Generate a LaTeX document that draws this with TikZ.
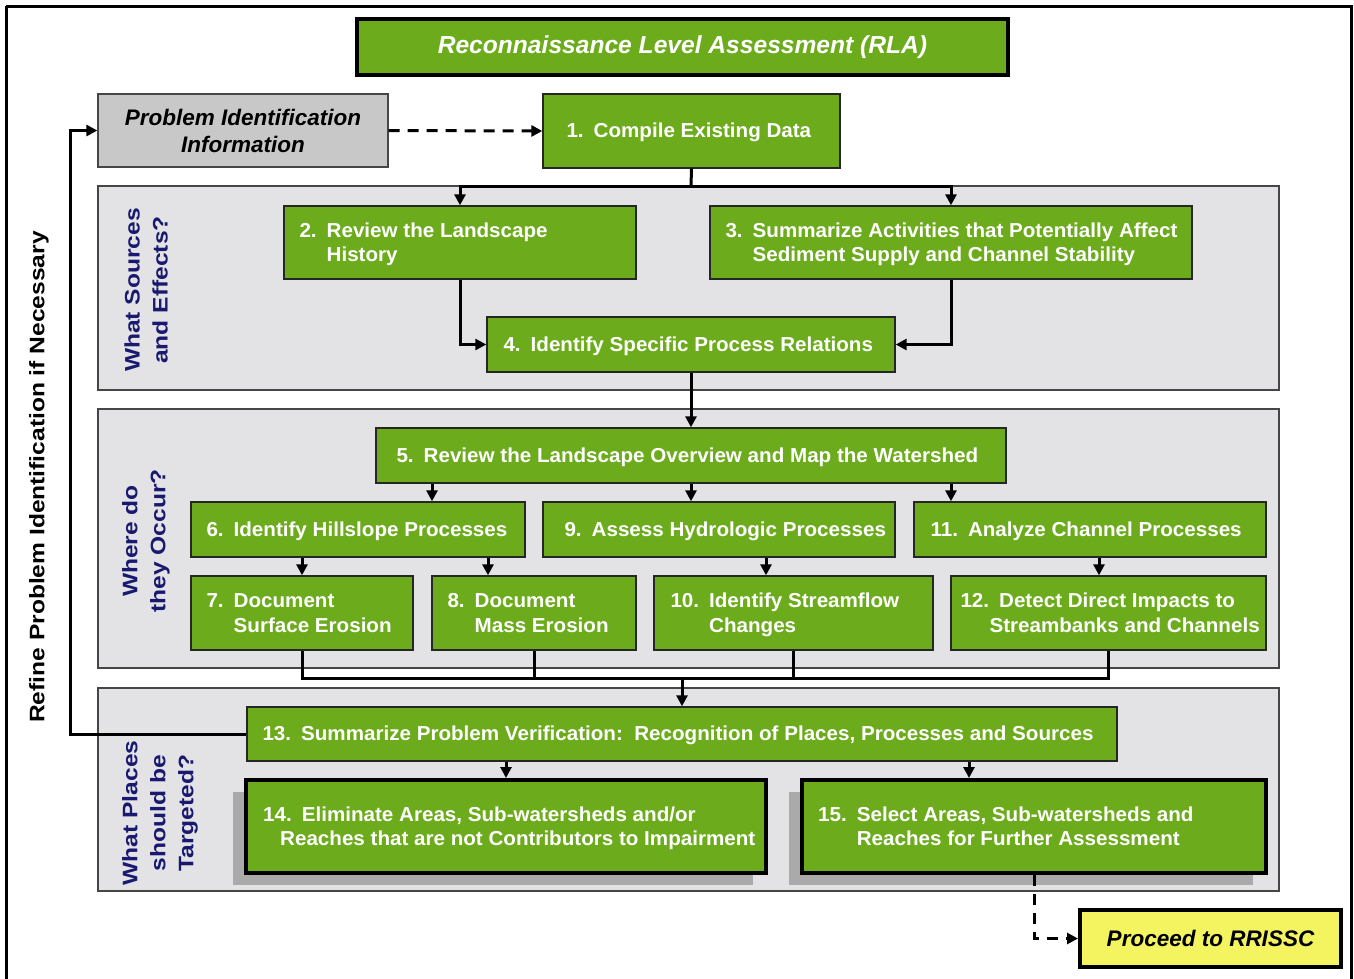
\documentclass[tikz,border=0pt]{standalone}
\usepackage{fontspec}
\setmainfont{Liberation Sans}
\newfontfamily\boxfnt[FakeStretch=1.02]{Liberation Sans}
\newfontfamily\widefnt[FakeStretch=1.17]{Liberation Sans}
\usetikzlibrary{arrows.meta,shadows}
\definecolor{grn}{RGB}{108,172,28}
\definecolor{panelgray}{RGB}{227,226,228}
\definecolor{pigray}{RGB}{200,200,200}
\definecolor{shadowgray}{RGB}{170,170,170}
\definecolor{yel}{RGB}{244,244,96}
\definecolor{navy}{RGB}{25,25,112}
\definecolor{bordergray}{RGB}{70,70,70}
\newcommand\nm[2]{\begin{tabular}{@{}l@{\hspace{10pt}}l@{}}#1&#2\end{tabular}}
% generic box: [style]{name}{x1}{y1}{x2}{y2}{text}
\newcommand\bx[7][]{%
  \pgfmathsetmacro\bxw{#5-#3}\pgfmathsetmacro\bxh{#6-#4}%
  \pgfmathsetmacro\bxcx{(#3+#5)/2}\pgfmathsetmacro\bxcy{(#4+#6)/2}%
  \node[#1,minimum width=\bxw pt,minimum height=\bxh pt] (#2) at (\bxcx,\bxcy) {#7};}
% green step box: [style]{name}{x1}{y1}{x2}{y2}{pad}{text}
\newcommand\gb[8][]{%
  \bx[gbox,#1]{#2}{#3}{#4}{#5}{#6}{}%
  \node[btext] (#2t) at ([xshift=#7pt,yshift=-2pt]#2.west) {#8};}
\begin{document}
\begin{tikzpicture}[x=1pt,y=-1pt,
  panel/.style={draw=bordergray,fill=panelgray,line width=1.3pt,inner sep=0},
  gbox/.style={draw=black!85,fill=grn,line width=1.4pt,inner sep=0},
  thick box/.style={line width=4pt,draw=black},
  btext/.style={anchor=west,inner sep=0,text=white,font=\boxfnt\bfseries\fontsize{20.2}{24.5}\selectfont},
  seclab/.style={rotate=90,align=center,inner sep=0,text=navy,font=\widefnt\bfseries\fontsize{21}{28}\selectfont},
  line/.style={line width=3pt,draw=black},
  arr/.style={line width=3pt,-{Triangle[length=11pt,width=11pt]}},
  dasharr/.style={line width=3pt,dash pattern=on 11pt off 8pt,-{Triangle[length=11pt,width=11pt]}},
  shad/.style={general shadow={fill=shadowgray,shadow xshift=-13pt,shadow yshift=-12pt}}]
\useasboundingbox (0,0) rectangle (1354,978);
\draw[line width=3pt] (6,6) -- (1351,6) -- (1351,995) (6,6) -- (6,995);

% title
\bx[fill=grn,thick box,text=white,font=\bfseries\itshape\fontsize{24.6}{28}\selectfont]{title}{357}{19}{1008}{75}{\raisebox{-2pt}{Reconnaissance Level Assessment (RLA)}}

% panels
\bx[panel]{p1}{98}{186}{1279}{390}{}
\bx[panel]{p2}{98}{409}{1279}{668}{}
\bx[panel]{p3}{98}{688}{1279}{891}{}

% section labels
\node[seclab] (l1) at (146,290) {What Sources\\and Effects?};
\node[seclab] (l2) at (146,541) {Where do\\they Occur?};
\node[seclab] (l3) at (160,813) {What Places\\should be\\Targeted?};
\node[rotate=90,inner sep=0,font=\widefnt\bfseries\fontsize{21}{26}\selectfont] (refine) at (39,477) {Refine Problem Identification if Necessary};

% problem identification
\bx[draw=bordergray,fill=pigray,line width=1.3pt,align=center,font=\bfseries\itshape\fontsize{22.5}{27}\selectfont]{pi}{98}{94}{388}{167}{Problem Identification\\Information}

% green boxes
\gb{b1}{543}{94}{840}{168}{24}{\nm{1.}{Compile Existing Data}}
\gb{b2}{284}{206}{636}{279}{16}{\nm{2.}{Review the Landscape\\&History}}
\gb{b3}{710}{206}{1192}{279}{16}{\nm{3.}{Summarize Activities that Potentially Affect\\&Sediment Supply and Channel Stability}}
\gb{b4}{487}{317}{895}{372}{17}{\nm{4.}{Identify Specific Process Relations}}
\gb{b5}{376}{428}{1006}{483}{21}{\nm{5.}{Review the Landscape Overview and Map the Watershed}}
\gb{b6}{191}{502}{525}{557}{16}{\nm{6.}{Identify Hillslope Processes}}
\gb{b9}{543}{502}{895}{557}{22}{\nm{9.}{Assess Hydrologic Processes}}
\gb{b11}{914}{502}{1266}{557}{17}{\nm{11.}{Analyze Channel Processes}}
\gb{b7}{191}{576}{413}{650}{16}{\nm{7.}{Document\\&Surface Erosion}}
\gb{b8}{432}{576}{636}{650}{16}{\nm{8.}{Document\\&Mass Erosion}}
\gb{b10}{654}{576}{933}{650}{17}{\nm{10.}{Identify Streamflow\\&Changes}}
\gb{b12}{951}{576}{1266}{650}{10}{\begin{tabular}{@{}l@{}}12.\hspace{10pt}Detect Direct Impacts to\\\hspace{29pt}Streambanks and Channels\end{tabular}}
\gb{b13}{247}{707}{1117}{761}{16}{\nm{13.}{Summarize Problem Verification:\ \ Recognition of Places, Processes and Sources}}
\gb[thick box,shad]{b14}{246}{780}{766}{873}{19}{\begin{tabular}{@{}l@{}}14.\hspace{10pt}Eliminate Areas, Sub-watersheds and/or\\\hspace{17pt}Reaches that are not Contributors to Impairment\end{tabular}}
\gb[thick box,shad]{b15}{802}{780}{1266}{873}{18}{\nm{15.}{Select Areas, Sub-watersheds and\\&Reaches for Further Assessment}}

% proceed
\bx[fill=yel,thick box,font=\bfseries\itshape\fontsize{22.5}{27}\selectfont]{proceed}{1080}{910}{1341}{967}{Proceed to RRISSC}

% connectors
\coordinate (j1) at (691,186);
\draw[line] (b1.south) -- (j1);
\draw[arr] (j1) -| (b2.north);
\draw[arr] (j1) -| (b3.north);
\draw[arr] (b2.south) |- (b4.west);
\draw[arr] (b3.south) |- (b4.east);
\draw[arr] (b4.south) -- (b5.north);

\coordinate (x432) at (432,0);
\coordinate (x691) at (691,0);
\coordinate (x951) at (951,0);
\coordinate (x488) at (488,0);
\coordinate (x766) at (766,0);
\coordinate (x1099) at (1099,0);
\draw[arr] (b5.south -| x432) -- (b6.north -| x432);
\draw[arr] (b5.south -| x691) -- (b9.north -| x691);
\draw[arr] (b5.south -| x951) -- (b11.north -| x951);
\draw[arr] (b6.south -| b7.north) -- (b7.north);
\draw[arr] (b6.south -| x488) -- (b8.north -| x488);
\draw[arr] (b9.south -| x766) -- (b10.north -| x766);
\draw[arr] (b11.south -| x1099) -- (b12.north -| x1099);

\coordinate (j3) at (682,678);
\draw[line] (b7.south) -- (b7.south |- j3) -- (b12.south |- j3) -- (b12.south);
\draw[line] (b8.south) -- (b8.south |- j3);
\draw[line] (b10.south) -- (b10.south |- j3);
\draw[arr] (j3) -- (b13.north);

\coordinate (x506) at (506,0);
\coordinate (x969) at (969,0);
\draw[arr] (b13.south -| x506) -- (b14.north -| x506);
\draw[arr] (b13.south -| x969) -- (b15.north -| x969);

\coordinate (loop) at (70,0);
\draw[arr] (b13.west) -- (b13.west -| loop) -- (pi.west -| loop) -- (pi.west);
\draw[dasharr] (pi.east) -- (b1.west);
\draw[dasharr] (b15.south) |- (proceed.west);
\end{tikzpicture}
\end{document}
